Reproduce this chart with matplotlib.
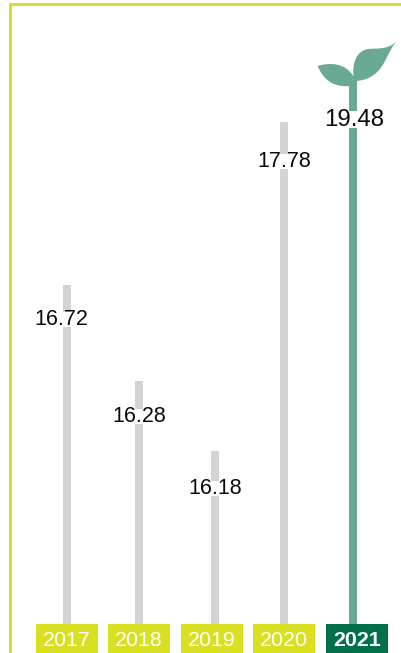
import numpy as np
import matplotlib
matplotlib.use("Agg")
import matplotlib.pyplot as plt
from matplotlib.patches import PathPatch, Rectangle
from matplotlib.path import Path
from matplotlib.transforms import Affine2D

plt.rcParams["font.family"] = ["Liberation Sans", "DejaVu Sans"]

years = ["2017", "2018", "2019", "2020", "2021"]
values = [16.72, 16.28, 16.18, 17.78, 19.48]

GREY = "#d1d3d4"
LIME = "#d9e021"
SOFT_GREEN = "#6aaa93"
DARK_GREEN = "#006f4b"
W, H = 401, 653

# The infographic's vertical axis is not linear: a piecewise scale maps each
# value to a height in pixels above the bottom edge of the figure.
scale_values = [13.0, 15.0, 16.18, 16.28, 16.72, 17.78, 19.48, 21.0]
scale_heights = [0, 26, 202, 272, 368, 531, 573, H]


def forward(v):
    return np.interp(v, scale_values, scale_heights)


def inverse(h):
    return np.interp(h, scale_heights, scale_values)


fig = plt.figure(figsize=(W / 100, H / 100), dpi=100, facecolor="white")
ax = fig.add_axes([0, 0, 1, 1])
ax.set_yscale("function", functions=(forward, inverse))
ax.set_xlim(0, W)
ax.set_ylim(13.0, 21.0)
ax.axis("off")

# Pixel frame with the origin at the top left, for decoration
px = Affine2D().scale(1, -1).translate(0, H)

bar_x = [67, 139, 215, 284, 353]
label_x = [63, 139, 215, 284, 354]
label_drop = [34.5, 35.5, 37.5, 39.5, 39.5]
label_size = [15.5, 15.5, 15.5, 15.5, 17.3]
bar_colors = [GREY, GREY, GREY, GREY, SOFT_GREEN]
box_left = [36, 108, 181, 253, 326]
box_colors = [LIME, LIME, LIME, LIME, DARK_GREEN]

# Frame along the left and top edges
ax.add_patch(Rectangle((8.8, 3), 3.4, H - 3, color=LIME, lw=0, transform=px))
ax.add_patch(Rectangle((8.8, 2.8), W - 8.8, 3.4, color=LIME, lw=0, transform=px))

ax.bar(bar_x, np.array(values) - 15.0, bottom=15.0, width=8, color=bar_colors, lw=0, zorder=2)

for x, lx, v, drop, size in zip(bar_x, label_x, values, label_drop, label_size):
    ax.annotate(
        f"{v:.2f}", xy=(x, v), xytext=(lx - x, -drop * 0.72),
        textcoords="offset points", ha="center", va="center",
        fontsize=size, color="#0a0a0a", zorder=4,
        bbox=dict(boxstyle="square,pad=-0.12", fc="white", ec="none"),
    )

# Year tags along the bottom
for year, left, color in zip(years, box_left, box_colors):
    ax.add_patch(Rectangle((left, 624), 62, 29, color=color, lw=0, transform=px, zorder=5))
    ax.text(
        left + 31, 640, year, transform=px, ha="center", va="center",
        fontsize=15.4, color="white", zorder=6,
        fontweight="bold" if year == "2021" else "normal",
    )

# Sprout on top of the tallest bar
M, C, L, Z = Path.MOVETO, Path.CURVE4, Path.LINETO, Path.CLOSEPOLY
left_leaf = Path(
    [(317.7, 66), (329, 62.5), (346, 62), (354.5, 78), (350, 86),
     (338, 87), (325, 84), (317.7, 66), (317.7, 66)],
    [M, C, C, C, L, C, C, C, Z],
)
right_leaf = Path(
    [(396, 41.5), (388, 50), (378, 48), (368, 49), (357, 51), (351, 62), (354, 81),
     (371, 81), (380, 71), (385, 61), (389, 53), (392, 47), (396, 41.5), (396, 41.5)],
    [M, C, C, C, C, C, C, C, C, C, C, C, C, Z],
)
for leaf in (left_leaf, right_leaf):
    ax.add_patch(PathPatch(leaf, fc=SOFT_GREEN, ec="none", transform=px, zorder=3))

fig.savefig("out.png", dpi=100, facecolor="white")
